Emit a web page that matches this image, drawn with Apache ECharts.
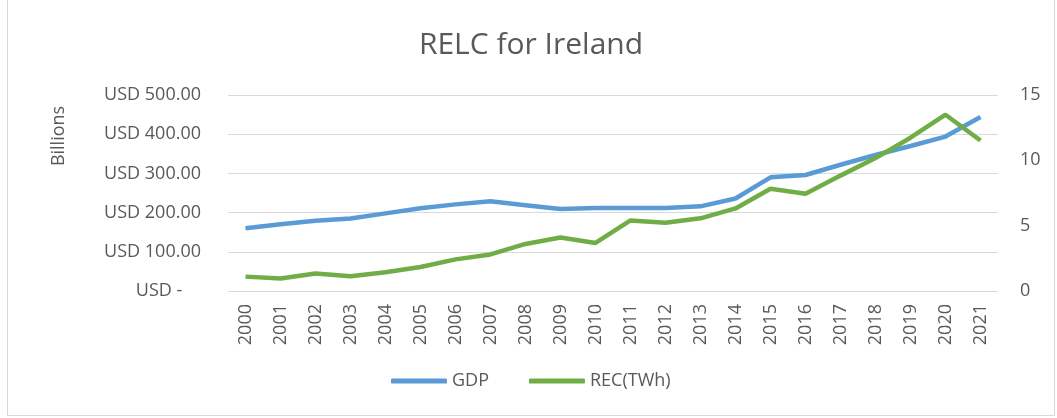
<!DOCTYPE html>
<html>
<head>
<meta charset="utf-8">
<script src="https://cdn.jsdelivr.net/npm/echarts@6/dist/echarts.min.js"></script>
<style>
  html, body { margin: 0; padding: 0; background: #fff; }
  #chart { position: absolute; left: 7px; top: 0; width: 1048px; height: 416px; border: 1px solid #d9d9d9; border-top: none; box-sizing: border-box; }
</style>
</head>
<body>
<div id="chart"></div>
<script>
// years on the x axis
const years = ['2000', '2001', '2002', '2003', '2004', '2005', '2006', '2007', '2008', '2009', '2010',
  '2011', '2012', '2013', '2014', '2015', '2016', '2017', '2018', '2019', '2020', '2021']
// GDP, USD billions (left axis)
const gdp = [160, 170, 179, 185, 198, 211, 221, 229, 219, 209, 212,
  212, 212, 216, 236, 290, 296, 322, 347, 370, 394, 444]
// renewable electricity consumption, TWh (right axis)
const rec = [1.1, 0.96, 1.34, 1.13, 1.43, 1.84, 2.42, 2.8, 3.6, 4.1, 3.68,
  5.4, 5.23, 5.56, 6.32, 7.83, 7.45, 8.83, 10.17, 11.73, 13.49, 11.52]

const textColor = '#595959'
const font = 'Open Sans'

const chart = echarts.init(document.getElementById('chart'))
chart.setOption({
  animation: false,
  title: {
    text: 'RELC for Ireland',
    left: 'center',
    top: 25,
    textStyle: { fontFamily: font, fontSize: 30, fontWeight: 'normal', color: textColor },
  },
  legend: {
    bottom: 20,
    left: 378,
    itemWidth: 56,
    itemHeight: 5,
    itemGap: 40,
    icon: 'roundRect',
    textStyle: { fontFamily: font, fontSize: 18, color: textColor },
    data: ['GDP', 'REC(TWh)'],
  },
  grid: { left: 220, right: 56, top: 95, bottom: 124 },
  xAxis: {
    type: 'category',
    data: years,
    axisLine: { show: false },
    axisTick: { show: false },
    axisLabel: { rotate: 90, margin: 13, fontFamily: font, fontSize: 18, color: textColor },
  },
  yAxis: [
    {
      type: 'value',
      min: 0,
      max: 500,
      interval: 100,
      name: 'Billions',
      nameLocation: 'middle',
      nameRotate: 90,
      nameGap: 160,
      nameTextStyle: { fontFamily: font, fontSize: 18, color: textColor, padding: [0, 0, 0, 114] },
      axisLabel: {
        margin: 27,
        fontFamily: font,
        fontSize: 18,
        color: textColor,
        formatter: v => (v === 0 ? 'USD -    ' : 'USD ' + v.toFixed(2)),
      },
      splitLine: { lineStyle: { color: '#d9d9d9', width: 1 } },
    },
    {
      type: 'value',
      min: 0,
      max: 15,
      interval: 5,
      axisLabel: { margin: 22, fontFamily: font, fontSize: 18, color: textColor },
      splitLine: { show: false },
    },
  ],
  series: [
    {
      name: 'GDP',
      type: 'line',
      data: gdp,
      yAxisIndex: 0,
      symbol: 'none',
      itemStyle: { color: '#5b9bd5' },
      lineStyle: { color: '#5b9bd5', width: 4.5 },
    },
    {
      name: 'REC(TWh)',
      type: 'line',
      data: rec,
      yAxisIndex: 1,
      symbol: 'none',
      itemStyle: { color: '#70ad47' },
      lineStyle: { color: '#70ad47', width: 4.5 },
    },
  ],
})
</script>
</body>
</html>
